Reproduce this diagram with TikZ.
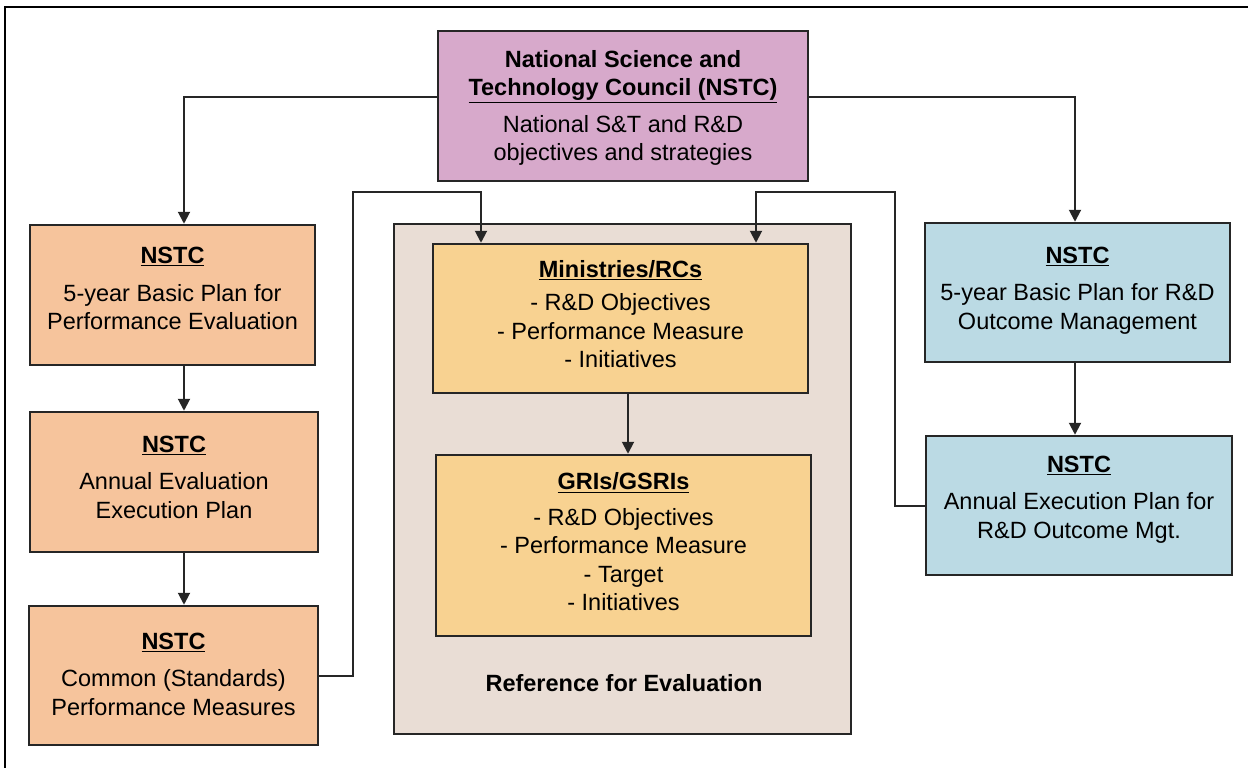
\documentclass[tikz,border=0pt]{standalone}
\usepackage{fontspec}
\setmainfont{Liberation Sans}
\usetikzlibrary{arrows.meta}
\definecolor{bordc}{HTML}{262626}
\definecolor{purp}{HTML}{D7A9CB}
\definecolor{oran}{HTML}{F6C49C}
\definecolor{yell}{HTML}{F8D291}
\definecolor{beig}{HTML}{E9DDD5}
\definecolor{blu}{HTML}{BBDAE4}
\tikzset{
  boxst/.style={draw=bordc, line width=2.5pt, inner sep=0pt},
  txt/.style={align=center, inner sep=0pt, font=\fontsize{23.5}{28.5}\selectfont, text=black},
  arr/.style={draw=bordc, line width=2pt, -{Triangle[length=12pt,width=12pt]}},
}
\begin{document}
\begin{tikzpicture}[x=1pt,y=-1pt]
\useasboundingbox (0,0) rectangle (1248,768);
\draw[line width=2.5pt, black] (5,7) rectangle (1280,800);

% reference frame
\node[boxst, fill=beig, minimum width=457pt, minimum height=510pt] (ref) at (622.5,479) {};
\node[txt, font=\fontsize{23.5}{28.5}\selectfont\bfseries] (reflab) at (624,683) {Reference for Evaluation};

% boxes
\node[boxst, fill=purp, minimum width=370pt, minimum height=150pt] (top) at (623,106) {};
\node[boxst, fill=oran, minimum width=285pt, minimum height=140pt] (L1) at (172.5,295) {};
\node[boxst, fill=oran, minimum width=288pt, minimum height=140pt] (L2) at (174,482) {};
\node[boxst, fill=oran, minimum width=289pt, minimum height=139pt] (L3) at (173.5,675.5) {};
\node[boxst, fill=yell, minimum width=375pt, minimum height=149pt] (Min) at (620.5,318.5) {};
\node[boxst, fill=yell, minimum width=375pt, minimum height=181pt] (GRI) at (623.5,545.5) {};
\node[boxst, fill=blu, minimum width=305pt, minimum height=139pt] (R1) at (1077.5,292.5) {};
\node[boxst, fill=blu, minimum width=306pt, minimum height=139pt] (R2) at (1079,505.5) {};

% texts
\node[txt] (topt) at ([yshift=-2pt]top.center)
 {\textbf{National Science and}\\ \textbf{\underline{Technology Council (NSTC)}}\\[8pt]
  National S\&T and R\&D\\ objectives and strategies};
\node[txt] (L1t) at ([yshift=6.5pt]L1.center)
 {\textbf{\underline{NSTC}}\\[9pt] 5-year Basic Plan for\\ Performance Evaluation};
\node[txt] (L2t) at ([yshift=5pt]L2.center)
 {\textbf{\underline{NSTC}}\\[9pt] Annual Evaluation\\ Execution Plan};
\node[txt] (L3t) at ([yshift=1.5pt]L3.center)
 {\textbf{\underline{NSTC}}\\[9pt] Common (Standards)\\ Performance Measures};
\node[txt] (Mint) at ([yshift=4.5pt]Min.center)
 {\textbf{\underline{Ministries/RCs}}\\[5pt] - R\&D Objectives\\ - Performance Measure\\ - Initiatives};
\node[txt] (GRIt) at ([yshift=3.5pt]GRI.center)
 {\textbf{\underline{GRIs/GSRIs}}\\[7pt] - R\&D Objectives\\ - Performance Measure\\ - Target\\ - Initiatives};
\node[txt] (R1t) at ([yshift=2pt]R1.center)
 {\textbf{\underline{NSTC}}\\[9pt] 5-year Basic Plan for R\&D\\ Outcome Management};
\node[txt] (R2t) at ([yshift=6pt]R2.center)
 {\textbf{\underline{NSTC}}\\[9pt] Annual Execution Plan for\\ R\&D Outcome Mgt.};

% helper coordinates
\coordinate (yN) at (0,97);
\coordinate (xL) at (184,0);
\coordinate (xR) at (1075,0);
\coordinate (xM) at (628,0);
\coordinate (c1) at (353,676);
\coordinate (c2) at (481,192);
\coordinate (d1) at (895,506);
\coordinate (d2) at (756,192);

% connectors
\draw[arr] (top.west |- yN) -| (L1.north -| xL);
\draw[arr] (top.east |- yN) -| (R1.north -| xR);
\draw[arr] (L1.south -| xL) -- (L2.north -| xL);
\draw[arr] (L2.south -| xL) -- (L3.north -| xL);
\draw[arr] (R1.south -| xR) -- (R2.north -| xR);
\draw[arr] (Min.south -| xM) -- (GRI.north -| xM);
\draw[arr] (L3.east |- c1) -- (c1) |- (c2) -- (Min.north -| c2);
\draw[arr] (R2.west |- d1) -- (d1) |- (d2) -- (Min.north -| d2);
\end{tikzpicture}
\end{document}
